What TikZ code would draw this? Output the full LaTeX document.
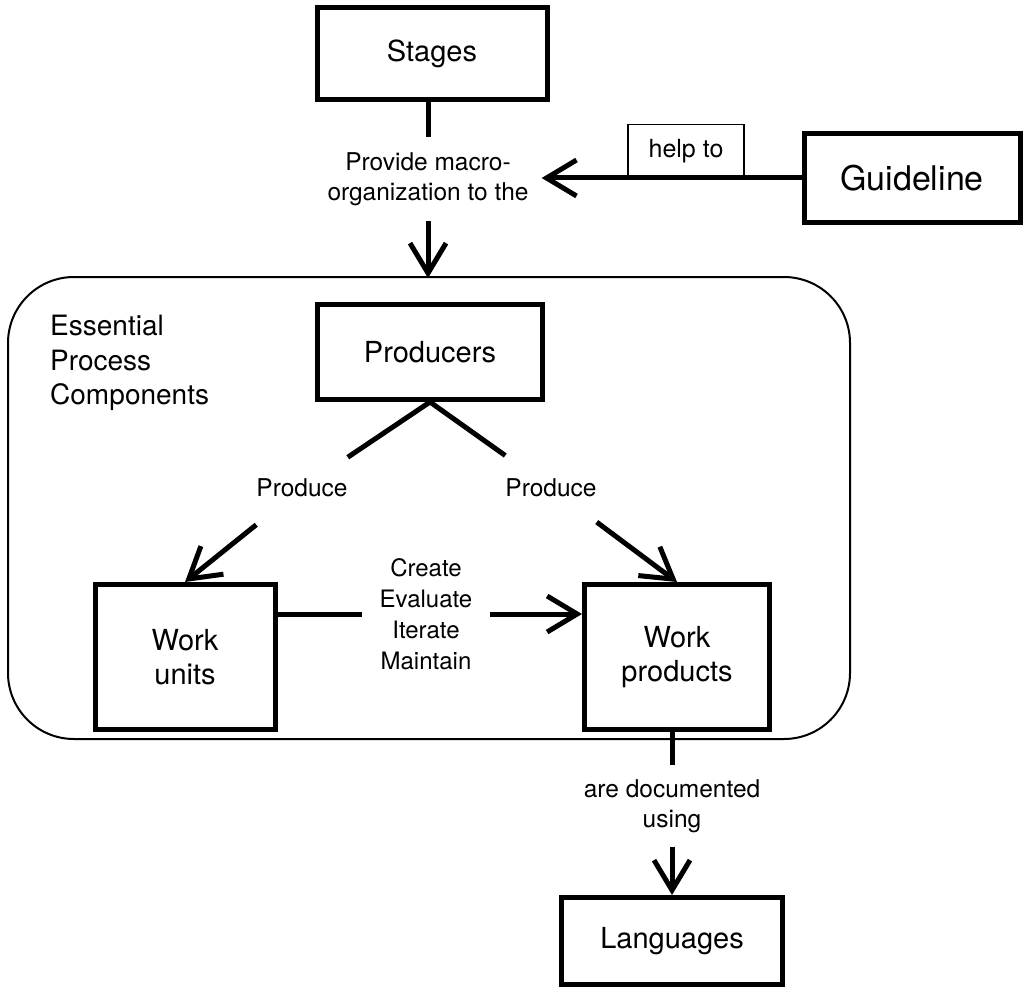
\documentclass[tikz,border=0pt]{standalone}
\usepackage{fontspec}
\setmainfont{TeX Gyre Heros}
\usetikzlibrary{arrows.meta,calc}
\begin{document}
\begin{tikzpicture}[x=1pt,y=-1pt,
  box/.style={draw,line width=5pt,minimum width=#1,inner sep=0pt,align=center,font=\fontsize{29}{34}\selectfont},
  box/.default=220pt,
  lbl/.style={align=center,font=\fontsize{24.5}{30}\selectfont,inner sep=0pt},
  conn/.style={line width=5pt},
  arr/.style={line width=5pt,-{Straight Barb[length=30pt,width=36pt,line width=5pt]}},
]
\useasboundingbox (0,0) rectangle (1027,987);
% container
\draw[line width=2pt,rounded corners=66pt] (8,277) rectangle (850,739);
\node[anchor=north west,align=left,inner sep=0pt,font=\fontsize{28}{34.5}\selectfont] (epc) at (50,315) {Essential\\Process\\Components};
% boxes
\node[box=230pt,minimum height=92pt] (stages) at (432,54) {Stages};
\node[box=216pt,minimum height=88pt,font=\fontsize{34}{38}\selectfont] (guide) at (912,178) {Guideline};
\node[box=225pt,minimum height=95pt] (prod) at (430,352) {Producers};
\node[box=180pt,minimum height=145pt] (wu) at (185,657) {Work\\units};
\node[box=185pt,minimum height=145pt] (wp) at (677,657) {Work\\products};
\node[box=221pt,minimum height=87pt] (lang) at (672,941) {Languages};
% labels
\node[lbl,inner ysep=15pt,inner xsep=13pt] (pm) at (428,179) {Provide macro-\\organization to the};
\node[draw,line width=1.3pt,minimum width=116pt,minimum height=53pt,inner sep=0pt,font=\fontsize{25}{30}\selectfont,anchor=south] (help) at (686,178) {help to};
\node[lbl,inner ysep=28pt,inner xsep=0pt] (pl) at (302,488) {Produce};
\node[lbl,inner ysep=28pt,inner xsep=0pt] (pr) at (551,488) {Produce};
\node[lbl,inner xsep=18pt,font=\fontsize{24}{31}\selectfont] (cem) at (426,614) {Create\\Evaluate\\Iterate\\Maintain};
\node[lbl,inner ysep=14pt] (doc) at (672,806) {are documented\\using};
% connectors
\coordinate (pmtop) at (428,278);
\draw[conn] (stages.south -| pm) -- (pm);
\draw[arr] (pm) -- (pmtop);
\draw[arr] (guide.west) -- (pm.east |- guide.west);
\draw[conn] (prod.south) -- (pl);
\draw[conn] (prod.south) -- (pr);
\draw[arr] (pl) -- (wu.north);
\draw[arr] (pr) -- (wp.north);
\draw[conn] (wu.east |- cem) -- (cem);
\draw[arr] (cem) -- (wp.west |- cem);
\draw[conn] (wp.south -| doc) -- (doc);
\draw[arr] (doc) -- (lang.north);
\end{tikzpicture}
\end{document}
